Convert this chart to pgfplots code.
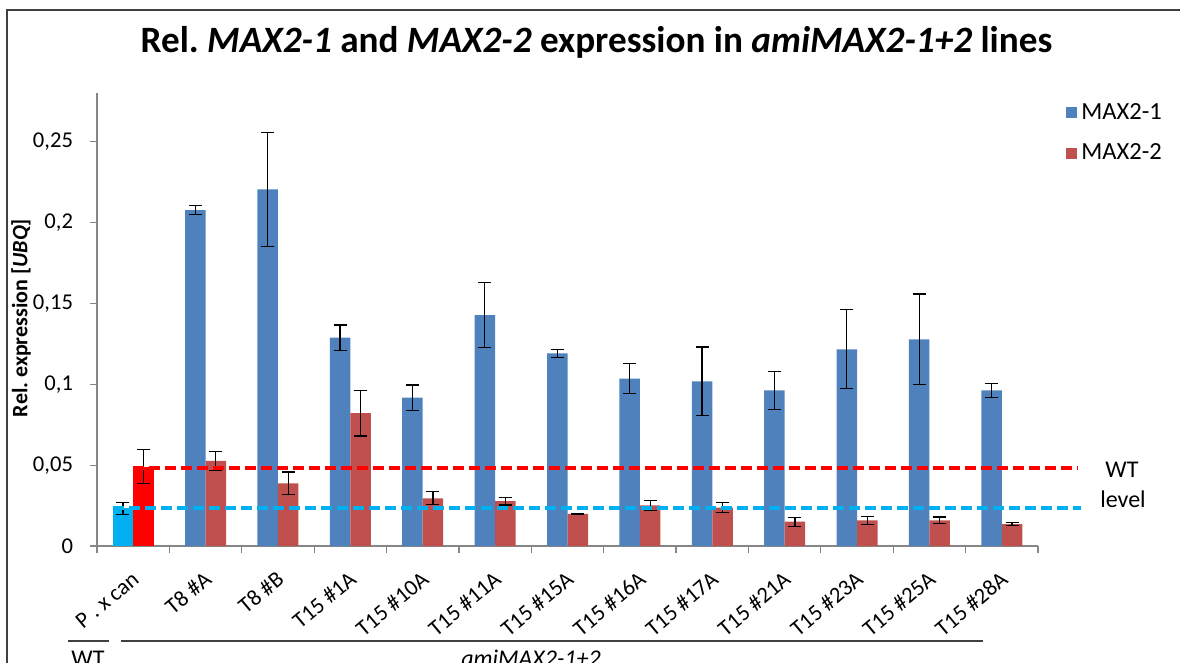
\documentclass[border=0pt]{standalone}
\usepackage{pgfplots}
\pgfplotsset{compat=1.18}
\usepackage{fontspec}
\setmainfont{Carlito}

\definecolor{maxblue}{HTML}{4F81BD}
\definecolor{maxred}{HTML}{C0504D}
\definecolor{wtcyan}{HTML}{00B0F0}
\definecolor{wtred}{HTML}{FF0000}
\definecolor{axisgray}{HTML}{868686}

\pgfplotsset{
  errbars/.style={
    error bars/.cd, y dir=both, y explicit,
    error bar style={black, line width=0.6bp},
    error mark options={black, line width=0.6bp, mark size=3.25bp, rotate=90}
  },
  sqlegend/.style={
    legend image code/.code={\fill[##1] (0bp,-2.75bp) rectangle (5.5bp,2.75bp);}
  }
}

\begin{document}
\begin{tikzpicture}
% outer frame
\draw[line width=0.6bp, black!75] (3.5bp,-2bp) -- (3.5bp,326.5bp) -- (592bp,326.5bp);

% title
\node[anchor=base, font=\bfseries\fontsize{18.6bp}{21bp}\selectfont]
  at (298.25bp,305bp) {Rel.\ \textit{MAX2-1} and \textit{MAX2-2} expression in \textit{amiMAX2-1+2} lines};

\begin{axis}[
  at={(48.5bp,58.5bp)}, anchor=south west,
  scale only axis, width=470.5bp, height=226.4bp,
  xmin=-0.5, xmax=12.5, ymin=0, ymax=0.28,
  ybar, bar width=10.25bp,
  axis lines*=left,
  axis line style={draw=axisgray, line width=0.6bp},
  clip=false, no markers,
  tick align=outside,
  major tick length=3.5bp, minor tick length=3.5bp,
  tick style={axisgray, line width=0.6bp},
  major x tick style={draw=none},
  xtick={0,...,12},
  minor xtick={-0.5,0.5,1.5,2.5,3.5,4.5,5.5,6.5,7.5,8.5,9.5,10.5,11.5,12.5},
  xticklabels={P . x can, T8 \#A, T8 \#B, T15 \#1A, T15 \#10A, T15 \#11A, T15 \#15A,
    T15 \#16A, T15 \#17A, T15 \#21A, T15 \#23A, T15 \#25A, T15 \#28A},
  xticklabel style={xshift=1.4bp, yshift=-11.4bp, rotate=40, anchor=east, inner sep=0pt,
    font=\fontsize{11.3bp}{13bp}\selectfont},
  ytick={0,0.05,0.1,0.15,0.2,0.25},
  yticklabel style={font=\fontsize{11.3bp}{14bp}\selectfont, xshift=-5bp,
    /pgf/number format/.cd, fixed, precision=2, use comma, assume math mode=true},
  legend style={at={(axis description cs:1.0234,0.9966)}, anchor=north west,
    draw=none, fill=none, font=\fontsize{12.3bp}{14bp}\selectfont,
    row sep=7bp},
]

% wild type reference (P. x can)
\addplot[bar shift=-5.125bp, fill=wtcyan, draw=none, forget plot, errbars]
  coordinates {(0,0.0233) +- (0,0.0036)};
\addplot[bar shift=5.125bp, fill=wtred, draw=none, forget plot, errbars]
  coordinates {(0,0.0491) +- (0,0.0105)};

% MAX2-1
\addplot[bar shift=-5.125bp, fill=maxblue, draw=none, sqlegend, errbars]
  coordinates {
  (1,0.2077) +- (0,0.0027)
  (2,0.2205) +- (0,0.0352)
  (3,0.1288) +- (0,0.0078)
  (4,0.0917) +- (0,0.0078)
  (5,0.1428) +- (0,0.0201)
  (6,0.1191) +- (0,0.0023)
  (7,0.1035) +- (0,0.0092)
  (8,0.1018) +- (0,0.0212)
  (9,0.0962) +- (0,0.0118)
  (10,0.1216) +- (0,0.0244)
  (11,0.1278) +- (0,0.0280)
  (12,0.0962) +- (0,0.0045)
  };
\addlegendentry{MAX2-1}

% MAX2-2
\addplot[bar shift=5.125bp, fill=maxred, draw=none, sqlegend, errbars]
  coordinates {
  (1,0.0526) +- (0,0.0060)
  (2,0.0387) +- (0,0.0070)
  (3,0.0822) +- (0,0.0142)
  (4,0.0295) +- (0,0.0040)
  (5,0.0278) +- (0,0.0024)
  (6,0.0198) +- (0,0.0004)
  (7,0.0251) +- (0,0.0030)
  (8,0.0237) +- (0,0.0030)
  (9,0.0150) +- (0,0.0027)
  (10,0.0159) +- (0,0.0024)
  (11,0.0159) +- (0,0.0020)
  (12,0.0136) +- (0,0.0010)
  };
\addlegendentry{MAX2-2}

% wild-type levels
\addplot[sharp plot, wtred, line width=2bp, dash pattern=on 5.5bp off 2.5bp, forget plot]
  coordinates {(0,0.048) (13.05,0.048)};
\addplot[sharp plot, wtcyan, line width=2bp, dash pattern=on 5.5bp off 2.5bp, forget plot]
  coordinates {(-0.28,0.0235) (13.09,0.0235)};
\end{axis}

% y label
\node[rotate=90, font=\bfseries\fontsize{11bp}{13bp}\selectfont]
  at (10.5bp,172.5bp) {Rel.\ expression [\textit{UBQ}]};

% WT level note
\node[anchor=base, font=\fontsize{12bp}{14bp}\selectfont] at (561bp,92.8bp) {WT};
\node[anchor=base, font=\fontsize{12bp}{14bp}\selectfont] at (561.5bp,77.5bp) {level};

% group brackets
\draw[line width=0.6bp, black!75] (34bp,11bp) -- (54.5bp,11bp);
\draw[line width=0.6bp, black!75] (60.5bp,11bp) -- (491.5bp,11bp);
\node[anchor=base, font=\fontsize{12bp}{14bp}\selectfont] at (44bp,-1.9bp) {WT};
\node[anchor=base, font=\itshape\fontsize{12bp}{14bp}\selectfont] at (265.5bp,-1.9bp) {amiMAX2-1+2};

\pgfresetboundingbox
\path[use as bounding box] (0,0) rectangle (590bp,331.5bp);
\end{tikzpicture}
\end{document}
